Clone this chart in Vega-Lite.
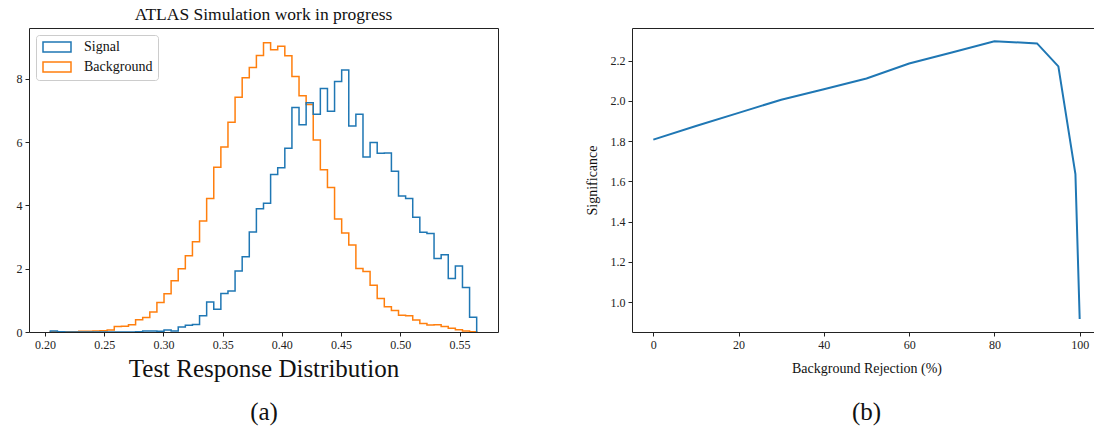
{
  "$schema": "https://vega.github.io/schema/vega-lite/v6.json",
  "autosize": {"type": "pad"},
  "padding": {"left": 15, "top": 5, "right": 0, "bottom": 0},
  "background": "white",
  "config": {
    "font": "Liberation Serif",
    "view": {"stroke": "#222", "strokeWidth": 1},
    "axis": {"domain": false, "grid": false, "tickColor": "#222", "tickSize": 4, "labelFontSize": 12, "labelColor": "#222", "labelPadding": 3, "titleFontWeight": "normal", "titleColor": "#111"},
    "title": {"fontWeight": "normal", "color": "#111"}
  },
  "hconcat": [
    {
      "width": 469,
      "height": 304,
      "title": {"text": "ATLAS Simulation work in progress", "fontSize": 17.5, "offset": 5},
      "data": {"values": [
        {"s":"Background","i":0,"x":0.2045,"y":0},
        {"s":"Background","i":1,"x":0.2045,"y":0.01},
        {"s":"Background","i":2,"x":0.2105,"y":0.01},
        {"s":"Background","i":3,"x":0.2165,"y":0.01},
        {"s":"Background","i":4,"x":0.2225,"y":0.01},
        {"s":"Background","i":5,"x":0.2285,"y":0.02},
        {"s":"Background","i":6,"x":0.2345,"y":0.02},
        {"s":"Background","i":7,"x":0.2405,"y":0.03},
        {"s":"Background","i":8,"x":0.2465,"y":0.04},
        {"s":"Background","i":9,"x":0.2525,"y":0.06},
        {"s":"Background","i":10,"x":0.2585,"y":0.17},
        {"s":"Background","i":11,"x":0.2645,"y":0.18},
        {"s":"Background","i":12,"x":0.2705,"y":0.23},
        {"s":"Background","i":13,"x":0.2765,"y":0.39},
        {"s":"Background","i":14,"x":0.2825,"y":0.46},
        {"s":"Background","i":15,"x":0.2885,"y":0.63},
        {"s":"Background","i":16,"x":0.2945,"y":0.93},
        {"s":"Background","i":17,"x":0.3005,"y":1.21},
        {"s":"Background","i":18,"x":0.3065,"y":1.62},
        {"s":"Background","i":19,"x":0.3125,"y":2.00},
        {"s":"Background","i":20,"x":0.3185,"y":2.41},
        {"s":"Background","i":21,"x":0.3245,"y":2.85},
        {"s":"Background","i":22,"x":0.3305,"y":3.51},
        {"s":"Background","i":23,"x":0.3365,"y":4.22},
        {"s":"Background","i":24,"x":0.3425,"y":5.21},
        {"s":"Background","i":25,"x":0.3485,"y":5.85},
        {"s":"Background","i":26,"x":0.3545,"y":6.63},
        {"s":"Background","i":27,"x":0.3605,"y":7.42},
        {"s":"Background","i":28,"x":0.3665,"y":8.04},
        {"s":"Background","i":29,"x":0.3725,"y":8.36},
        {"s":"Background","i":30,"x":0.3785,"y":8.74},
        {"s":"Background","i":31,"x":0.3845,"y":9.14},
        {"s":"Background","i":32,"x":0.3905,"y":8.92},
        {"s":"Background","i":33,"x":0.3965,"y":9.03},
        {"s":"Background","i":34,"x":0.4025,"y":8.73},
        {"s":"Background","i":35,"x":0.4085,"y":8.08},
        {"s":"Background","i":36,"x":0.4145,"y":7.47},
        {"s":"Background","i":37,"x":0.4205,"y":7.19},
        {"s":"Background","i":38,"x":0.4265,"y":6.07},
        {"s":"Background","i":39,"x":0.4325,"y":5.13},
        {"s":"Background","i":40,"x":0.4385,"y":4.57},
        {"s":"Background","i":41,"x":0.4445,"y":3.57},
        {"s":"Background","i":42,"x":0.4505,"y":3.13},
        {"s":"Background","i":43,"x":0.4565,"y":2.75},
        {"s":"Background","i":44,"x":0.4625,"y":2.01},
        {"s":"Background","i":45,"x":0.4685,"y":1.91},
        {"s":"Background","i":46,"x":0.4745,"y":1.48},
        {"s":"Background","i":47,"x":0.4805,"y":1.06},
        {"s":"Background","i":48,"x":0.4865,"y":0.80},
        {"s":"Background","i":49,"x":0.4925,"y":0.68},
        {"s":"Background","i":50,"x":0.4985,"y":0.53},
        {"s":"Background","i":51,"x":0.5045,"y":0.51},
        {"s":"Background","i":52,"x":0.5105,"y":0.38},
        {"s":"Background","i":53,"x":0.5165,"y":0.27},
        {"s":"Background","i":54,"x":0.5225,"y":0.22},
        {"s":"Background","i":55,"x":0.5285,"y":0.23},
        {"s":"Background","i":56,"x":0.5345,"y":0.17},
        {"s":"Background","i":57,"x":0.5405,"y":0.12},
        {"s":"Background","i":58,"x":0.5465,"y":0.07},
        {"s":"Background","i":59,"x":0.5525,"y":0.03},
        {"s":"Background","i":60,"x":0.5585,"y":0.01},
        {"s":"Background","i":61,"x":0.5645,"y":0},
        {"s":"Signal","i":0,"x":0.2045,"y":0},
        {"s":"Signal","i":1,"x":0.2045,"y":0.03},
        {"s":"Signal","i":2,"x":0.2105,"y":0.01},
        {"s":"Signal","i":3,"x":0.2165,"y":0},
        {"s":"Signal","i":4,"x":0.2225,"y":0},
        {"s":"Signal","i":5,"x":0.2285,"y":0},
        {"s":"Signal","i":6,"x":0.2345,"y":0},
        {"s":"Signal","i":7,"x":0.2405,"y":0},
        {"s":"Signal","i":8,"x":0.2465,"y":0},
        {"s":"Signal","i":9,"x":0.2525,"y":0},
        {"s":"Signal","i":10,"x":0.2585,"y":0},
        {"s":"Signal","i":11,"x":0.2645,"y":0},
        {"s":"Signal","i":12,"x":0.2705,"y":0},
        {"s":"Signal","i":13,"x":0.2765,"y":0.01},
        {"s":"Signal","i":14,"x":0.2825,"y":0.03},
        {"s":"Signal","i":15,"x":0.2885,"y":0.03},
        {"s":"Signal","i":16,"x":0.2945,"y":0.02},
        {"s":"Signal","i":17,"x":0.3005,"y":0.06},
        {"s":"Signal","i":18,"x":0.3065,"y":0.03},
        {"s":"Signal","i":19,"x":0.3125,"y":0.16},
        {"s":"Signal","i":20,"x":0.3185,"y":0.21},
        {"s":"Signal","i":21,"x":0.3245,"y":0.24},
        {"s":"Signal","i":22,"x":0.3305,"y":0.51},
        {"s":"Signal","i":23,"x":0.3365,"y":0.95},
        {"s":"Signal","i":24,"x":0.3425,"y":0.72},
        {"s":"Signal","i":25,"x":0.3485,"y":1.22},
        {"s":"Signal","i":26,"x":0.3545,"y":1.30},
        {"s":"Signal","i":27,"x":0.3605,"y":1.93},
        {"s":"Signal","i":28,"x":0.3665,"y":2.38},
        {"s":"Signal","i":29,"x":0.3725,"y":3.16},
        {"s":"Signal","i":30,"x":0.3785,"y":3.90},
        {"s":"Signal","i":31,"x":0.3845,"y":4.07},
        {"s":"Signal","i":32,"x":0.3905,"y":4.98},
        {"s":"Signal","i":33,"x":0.3965,"y":5.19},
        {"s":"Signal","i":34,"x":0.4025,"y":5.81},
        {"s":"Signal","i":35,"x":0.4085,"y":7.10},
        {"s":"Signal","i":36,"x":0.4145,"y":6.55},
        {"s":"Signal","i":37,"x":0.4205,"y":7.25},
        {"s":"Signal","i":38,"x":0.4265,"y":6.88},
        {"s":"Signal","i":39,"x":0.4325,"y":7.70},
        {"s":"Signal","i":40,"x":0.4385,"y":6.98},
        {"s":"Signal","i":41,"x":0.4445,"y":7.92},
        {"s":"Signal","i":42,"x":0.4505,"y":8.28},
        {"s":"Signal","i":43,"x":0.4565,"y":6.51},
        {"s":"Signal","i":44,"x":0.4625,"y":6.88},
        {"s":"Signal","i":45,"x":0.4685,"y":5.53},
        {"s":"Signal","i":46,"x":0.4745,"y":5.99},
        {"s":"Signal","i":47,"x":0.4805,"y":5.65},
        {"s":"Signal","i":48,"x":0.4865,"y":5.66},
        {"s":"Signal","i":49,"x":0.4925,"y":5.08},
        {"s":"Signal","i":50,"x":0.4985,"y":4.30},
        {"s":"Signal","i":51,"x":0.5045,"y":4.22},
        {"s":"Signal","i":52,"x":0.5105,"y":3.63},
        {"s":"Signal","i":53,"x":0.5165,"y":3.15},
        {"s":"Signal","i":54,"x":0.5225,"y":3.11},
        {"s":"Signal","i":55,"x":0.5285,"y":2.32},
        {"s":"Signal","i":56,"x":0.5345,"y":2.44},
        {"s":"Signal","i":57,"x":0.5405,"y":1.69},
        {"s":"Signal","i":58,"x":0.5465,"y":2.09},
        {"s":"Signal","i":59,"x":0.5525,"y":1.41},
        {"s":"Signal","i":60,"x":0.5585,"y":0.47},
        {"s":"Signal","i":61,"x":0.5645,"y":0}
      ]},
      "mark": {"type": "line", "interpolate": "step-after", "strokeWidth": 1.5, "clip": true},
      "encoding": {
        "x": {"field": "x", "type": "quantitative",
          "scale": {"domain": [0.1865, 0.5825], "nice": false, "zero": false},
          "axis": {"values": [0.2, 0.25, 0.3, 0.35, 0.4, 0.45, 0.5, 0.55], "format": ".2f",
            "title": ["Test Response Distribution", "(a)"], "titleFontSize": 25, "titleLineHeight": 43, "titlePadding": 6}},
        "y": {"field": "y", "type": "quantitative",
          "scale": {"domain": [0, 9.61], "nice": false},
          "axis": {"values": [0, 2, 4, 6, 8], "title": null}},
        "color": {"field": "s", "type": "nominal",
          "scale": {"domain": ["Signal", "Background"], "range": ["#1f77b4", "#ff7f0e"]},
          "legend": {"title": null, "orient": "top-left", "offset": 7,
            "symbolType": "M-2.8,-1H2.8V1H-2.8Z", "symbolSize": 100, "symbolOffset": 9, "symbolStrokeWidth": 1.5, "symbolFillColor": "white",
            "labelFontSize": 14, "labelColor": "#111", "labelOffset": 20, "rowPadding": 4,
            "fillColor": "white", "strokeColor": "#ccc", "cornerRadius": 3, "padding": 5}},
        "order": {"field": "i", "type": "quantitative"}
      }
    },
    {
      "width": 469,
      "height": 304,
      "title": {"text": "(b)", "orient": "bottom", "fontSize": 25, "offset": 25},
      "data": {"values": [
        {"rej": 0, "sig": 1.807},
        {"rej": 10, "sig": 1.875},
        {"rej": 20, "sig": 1.940},
        {"rej": 30, "sig": 2.005},
        {"rej": 40, "sig": 2.057},
        {"rej": 50, "sig": 2.111},
        {"rej": 60, "sig": 2.185},
        {"rej": 70, "sig": 2.240},
        {"rej": 80, "sig": 2.296},
        {"rej": 90, "sig": 2.285},
        {"rej": 95, "sig": 2.171},
        {"rej": 99, "sig": 1.636},
        {"rej": 100, "sig": 0.916}
      ]},
      "mark": {"type": "line", "strokeWidth": 2, "color": "#1f77b4", "clip": true},
      "encoding": {
        "x": {"field": "rej", "type": "quantitative",
          "scale": {"domain": [-5, 105], "nice": false, "zero": false},
          "axis": {"values": [0, 20, 40, 60, 80, 100], "title": "Background Rejection (%)", "titleFontSize": 14, "titlePadding": 11}},
        "y": {"field": "sig", "type": "quantitative",
          "scale": {"domain": [0.851, 2.3616], "nice": false, "zero": false},
          "axis": {"values": [1.0, 1.2, 1.4, 1.6, 1.8, 2.0, 2.2], "format": ".1f", "title": "Significance", "titleFontSize": 14, "titlePadding": 11}}
      }
    }
  ],
  "spacing": 134,
  "bounds": "flush"
}
